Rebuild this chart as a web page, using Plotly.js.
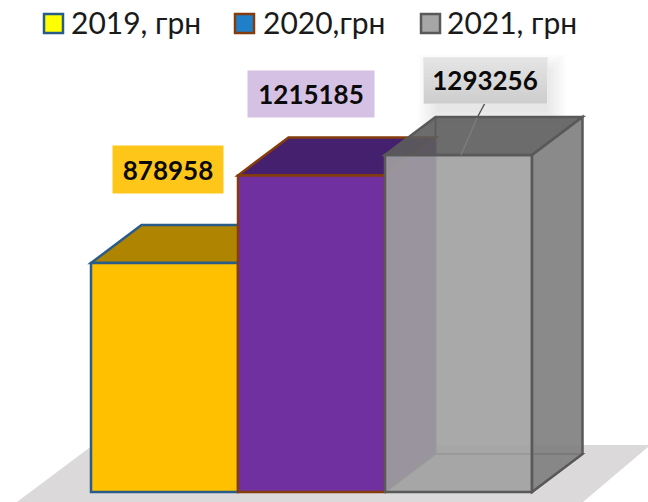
<!DOCTYPE html>
<html><head><meta charset="utf-8">
<script src="https://cdn.plot.ly/plotly-3.0.1.min.js"></script>
<style>html,body{margin:0;padding:0;background:#fff;overflow:hidden}</style>
</head><body><div id="chart" style="width:648px;height:502px"></div>
<script>
const seriesNames = ['2019, грн', '2020,грн', '2021, грн'];
const values = [878958, 1215185, 1293256];
const barColors = ['#ffc000', '#7030a0', 'rgba(160,160,160,0.9)'];
const edgeColors = ['#2a5c8a', '#843c0c', '#595959'];
const legendFills = ['#ffff00', '#1f7fc8', '#a6a6a6'];
const labelFills = ['#ffc61a', '#d5c1e3', 'transparent'];

const W = 648, H = 502;
const X0 = 91, XU = 147, Y0 = 492, YU = 3838;   // pixels per bar, value per pixel
const DX = 50.5 / XU, DY = 38 * YU;             // depth of the 3D boxes
const xRange = [-0.5 - X0 / XU, -0.5 + (W - X0) / XU];
const yRange = [-(H - Y0) * YU, Y0 * YU];
const px = p => -0.5 + (p - X0) / XU;
const py = p => (Y0 - p) * YU;
const path = pts => 'M' + pts.map(p => p[0] + ',' + p[1]).join('L') + 'Z';

const shapes = [];
const dataShape = (pts, fill, line, w, layer) => shapes.push({
  type: 'path', xref: 'x', yref: 'y', path: path(pts), fillcolor: fill,
  line: {color: line, width: w}, layer: layer || 'below'
});
const rectPx = (x0, y0, x1, y1, fill, layer) => shapes.push({
  type: 'rect', xref: 'paper', yref: 'paper',
  x0: x0 / W, x1: x1 / W, y0: 1 - y1 / H, y1: 1 - y0 / H,
  fillcolor: fill, line: {width: 0}, layer: layer || 'below'
});

// floor
dataShape([[px(17), py(502)], [px(93), py(445)], [px(652), py(445)], [px(648), py(447)], [px(583), py(502)]], '#dbd9da', 'rgba(0,0,0,0)', 0);

// soft shadow behind the grey label and box
for (let i = 0; i < 8; i++) {
  const g = 2.5 * i;
  rectPx(436 - g, 72 - g, 548 + g, 112 + g, 'rgba(0,0,0,0.013)');
}

const L = i => i - 0.5, R = i => i + 0.5;
// yellow top
dataShape([[L(0), values[0]], [L(0) + DX, values[0] + DY], [R(0) + DX, values[0] + DY], [R(0), values[0]]], '#ae8400', edgeColors[0], 2.5);
// purple top and side
dataShape([[L(1), values[1]], [L(1) + DX, values[1] + DY], [R(1) + DX, values[1] + DY], [R(1), values[1]]], '#44206e', edgeColors[1], 2.5);
dataShape([[R(1), values[1]], [R(1) + DX, values[1] + DY], [R(1) + DX, DY], [R(1), 0]], '#5a2a85', 'rgba(0,0,0,0)', 0);
// grey back edges and bottom, seen through the front
dataShape([[L(2), 0], [L(2) + DX, DY], [R(2) + DX, DY], [R(2), 0]], 'rgba(0,0,0,0)', '#595959', 2);
dataShape([[L(2) + DX, DY], [L(2) + DX, values[2] + DY]], 'rgba(0,0,0,0)', '#595959', 2);
// grey top and side over the bars
dataShape([[L(2), values[2]], [L(2) + DX, values[2] + DY], [R(2) + DX, values[2] + DY], [R(2), values[2]]], 'rgba(92,92,92,0.9)', '#595959', 2.5, 'above');
dataShape([[R(2), values[2]], [R(2) + DX, values[2] + DY], [R(2) + DX, DY], [R(2), 0]], 'rgba(125,125,125,0.9)', '#595959', 2.5, 'above');

// leader line of the grey label
shapes.push({type: 'line', xref: 'x', yref: 'y', x0: px(485), y0: py(103), x1: px(477), y1: py(118), line: {color: '#595959', width: 1.5}, layer: 'above'});
shapes.push({type: 'line', xref: 'x', yref: 'y', x0: px(477), y0: py(118), x1: px(461), y1: py(155), line: {color: '#7f7f7f', width: 1.2}, layer: 'above'});

// grey label gradient and frame
rectPx(423, 57, 548, 104, '#ebebeb', 'above');
for (let i = 0; i < 12; i++) {
  const c = 228 - Math.round(i * 2);
  rectPx(424, 58 + i * 45 / 12, 547, 58 + (i + 1) * 45 / 12 + 0.5, 'rgb(' + c + ',' + c + ',' + c + ')', 'above');
}

// legend swatches
const swatchX = [44, 235, 421];
swatchX.forEach((x, i) => shapes.push({
  type: 'rect', xref: 'paper', yref: 'paper',
  x0: x / W, x1: (x + 19) / W, y0: 1 - 33 / H, y1: 1 - 14 / H,
  fillcolor: legendFills[i], line: {color: edgeColors[i], width: 2.5}, layer: 'above'
}));

const legendTextX = [69, 261, 445];
const labelBox = [[168, 170, 110, 47], [311, 94, 126, 46], [485, 80, 124, 44]];
const annotations = [];
seriesNames.forEach((n, i) => annotations.push({
  xref: 'paper', yref: 'paper', x: legendTextX[i] / W, y: 1 - 22 / H,
  xanchor: 'left', yanchor: 'middle', showarrow: false, text: n,
  font: {family: 'Lato, Open Sans', size: 30, color: '#1a1a1a'}
}));
values.forEach((v, i) => annotations.push({
  xref: 'paper', yref: 'paper', x: labelBox[i][0] / W, y: 1 - labelBox[i][1] / H,
  xanchor: 'center', yanchor: 'middle', showarrow: false, text: String(v),
  width: labelBox[i][2], height: labelBox[i][3], bgcolor: labelFills[i],
  borderpad: 0, valign: 'middle', align: 'center',
  font: {family: 'Lato, Open Sans', size: 26, weight: 700, color: '#0a0a0a'}
}));

const traces = values.map((v, i) => ({
  type: 'bar', name: seriesNames[i], x: [i], y: [v], width: 1,
  marker: {color: barColors[i], line: {color: edgeColors[i], width: 2.5}},
  hoverinfo: 'name+y'
}));

Plotly.newPlot('chart', traces, {
  width: W, height: H, margin: {l: 0, r: 0, t: 0, b: 0},
  paper_bgcolor: '#fff', plot_bgcolor: 'rgba(0,0,0,0)', showlegend: false, barmode: 'overlay',
  xaxis: {range: xRange, visible: false, fixedrange: true},
  yaxis: {range: yRange, visible: false, fixedrange: true},
  shapes, annotations
}, {displayModeBar: false, staticPlot: true});
</script></body></html>
